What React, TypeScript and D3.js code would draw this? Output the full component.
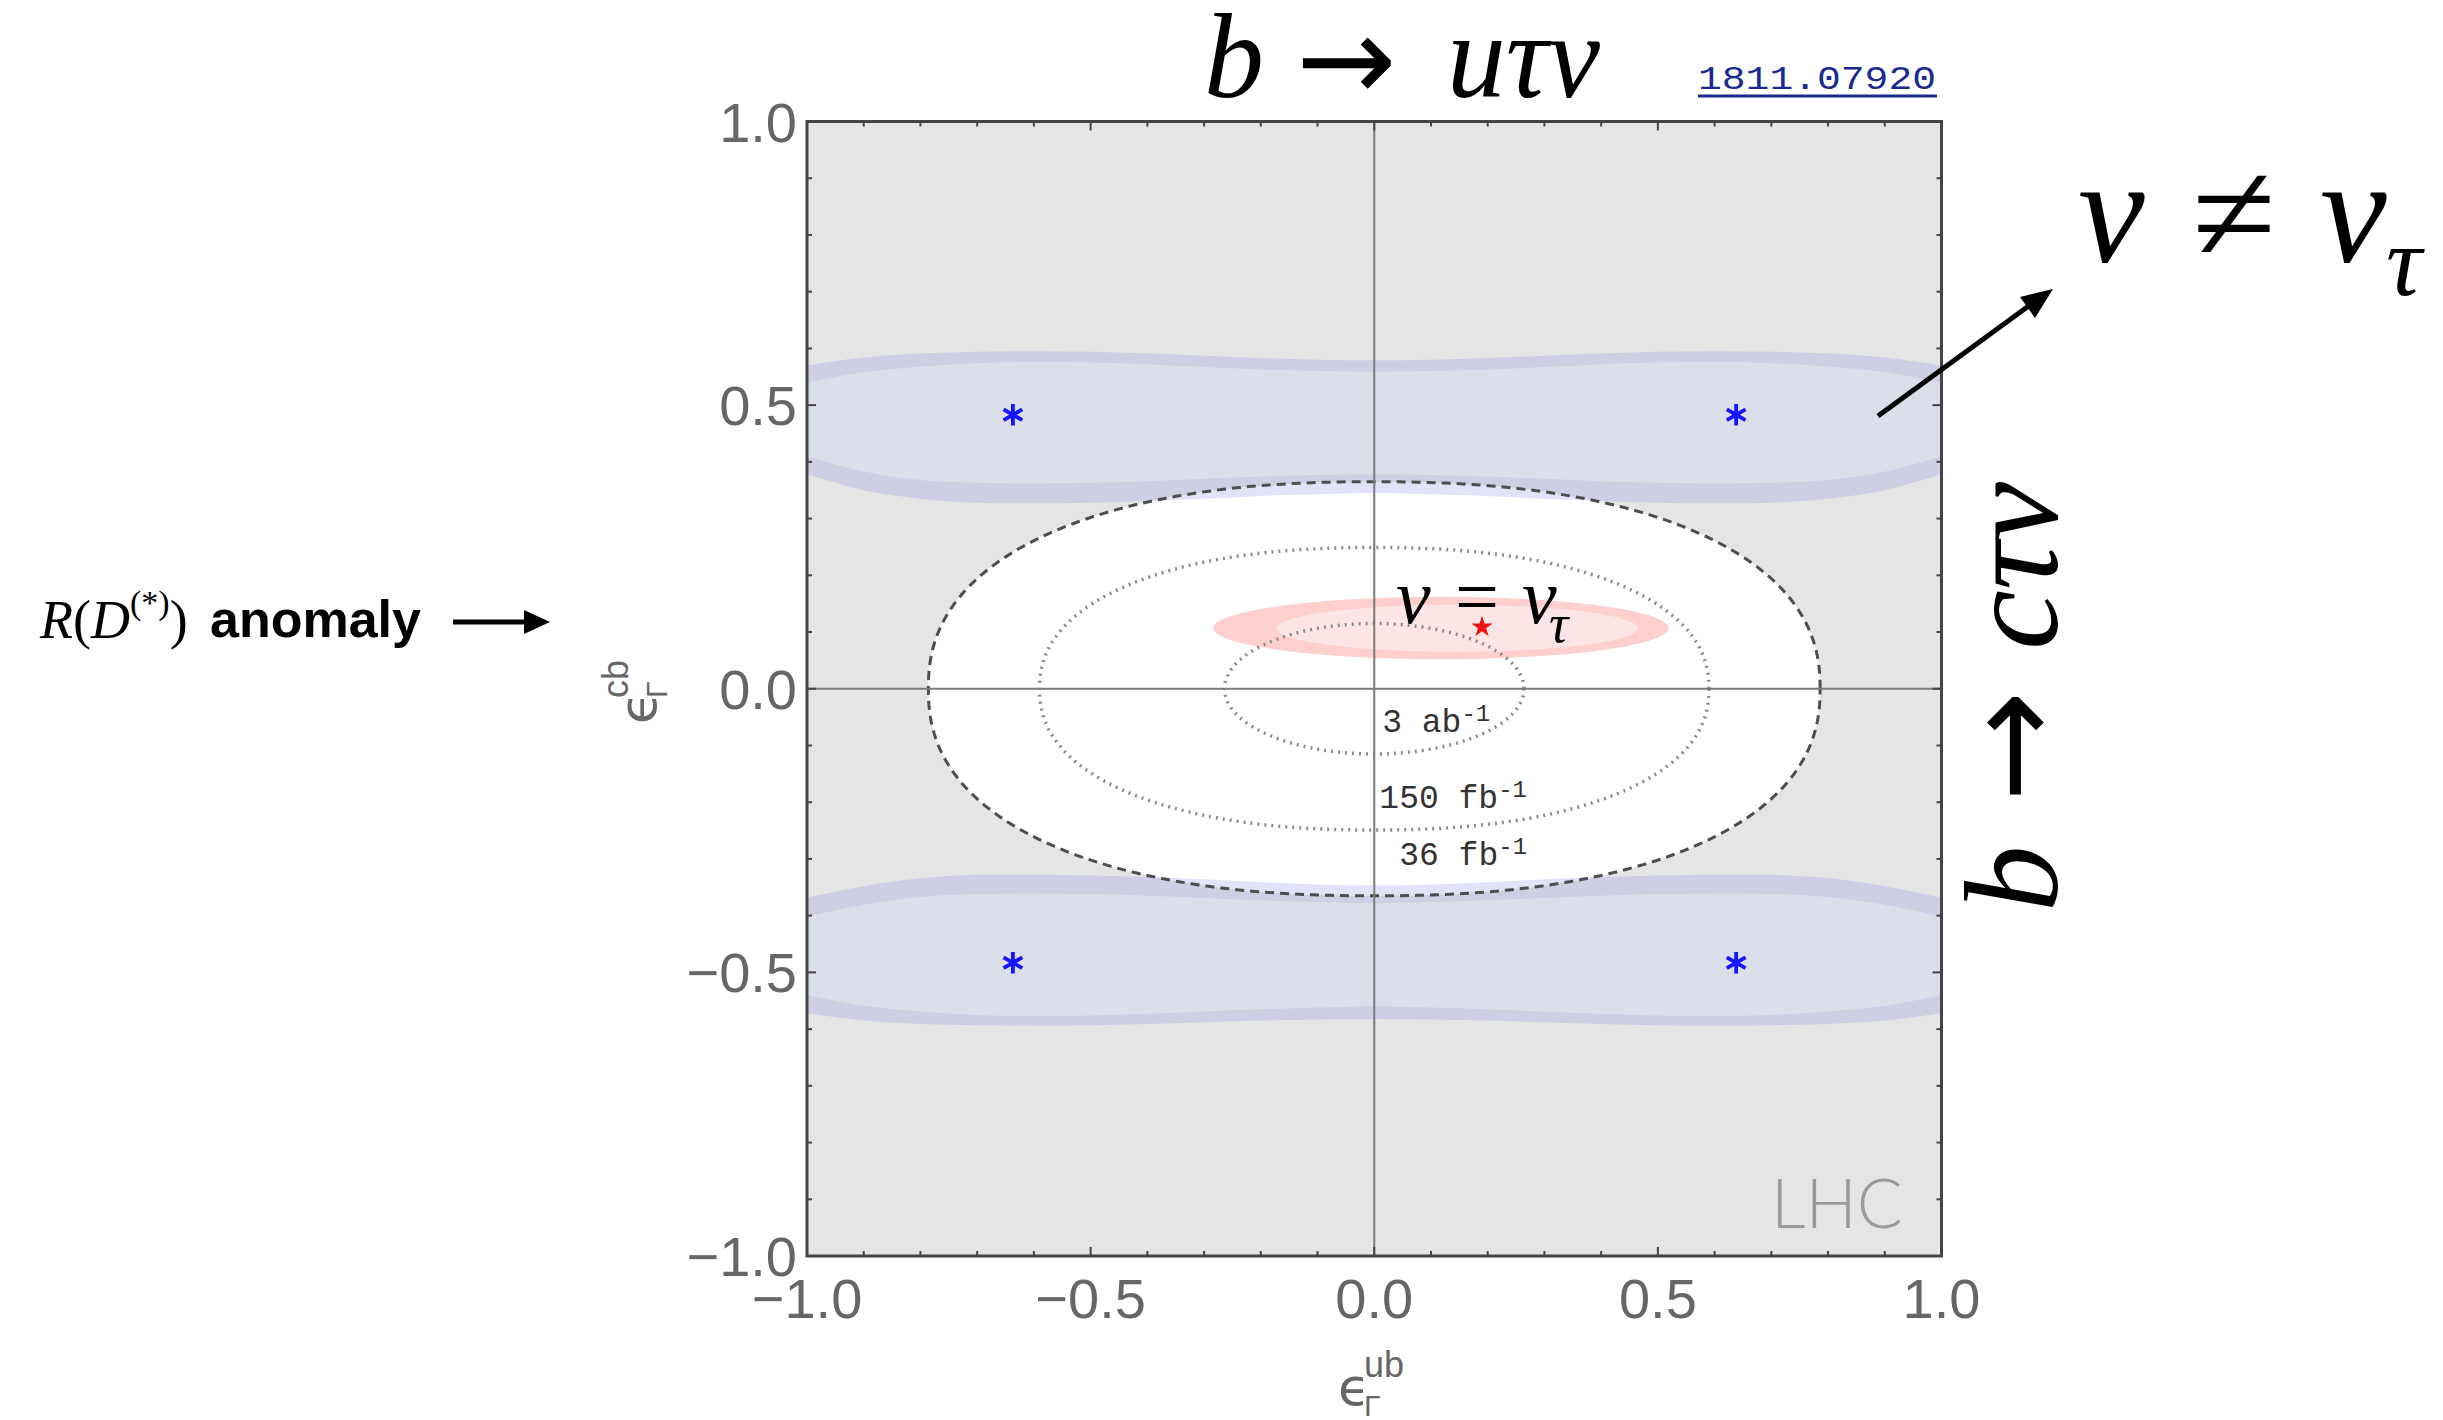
import React from "react";
import * as d3 from "d3";

const WIDTH = 2443;
const HEIGHT = 1420;

// Axis ticks
const majorTicks = [-1, -0.5, 0, 0.5, 1];
const majorTickLabels = ["−1.0", "−0.5", "0.0", "0.5", "1.0"];
const minorTicks = [-0.9, -0.8, -0.7, -0.6, -0.4, -0.3, -0.2, -0.1, 0.1, 0.2, 0.3, 0.4, 0.6, 0.7, 0.8, 0.9];

// b -> c tau nu (nu != nu_tau) allowed bands, sampled along epsilon_ub
const bandX = [-1, -0.9, -0.8, -0.7, -0.6, -0.5, -0.4, -0.3, -0.2, -0.1, 0, 0.1, 0.2, 0.3, 0.4, 0.5, 0.6, 0.7, 0.8, 0.9, 1];
const upperOuterTop = [0.570, 0.584, 0.591, 0.594, 0.595, 0.594, 0.591, 0.587, 0.583, 0.580, 0.579, 0.580, 0.583, 0.587, 0.591, 0.594, 0.595, 0.594, 0.591, 0.584, 0.570];
const upperInnerTop = [0.540, 0.558, 0.568, 0.574, 0.576, 0.575, 0.572, 0.567, 0.563, 0.560, 0.559, 0.560, 0.563, 0.567, 0.572, 0.575, 0.576, 0.574, 0.568, 0.558, 0.540];
const upperInnerBottom = [0.410, 0.383, 0.368, 0.363, 0.362, 0.363, 0.366, 0.370, 0.374, 0.377, 0.378, 0.377, 0.374, 0.370, 0.366, 0.363, 0.362, 0.363, 0.368, 0.383, 0.410];
const upperOuterBottom = [0.378, 0.350, 0.335, 0.328, 0.327, 0.328, 0.331, 0.335, 0.340, 0.343, 0.345, 0.343, 0.340, 0.335, 0.331, 0.328, 0.327, 0.328, 0.335, 0.350, 0.378];
const lowerOuterTop = [-0.368, -0.348, -0.334, -0.328, -0.328, -0.329, -0.332, -0.336, -0.341, -0.345, -0.347, -0.345, -0.341, -0.336, -0.332, -0.329, -0.328, -0.328, -0.334, -0.348, -0.368];
const lowerInnerTop = [-0.402, -0.381, -0.367, -0.362, -0.361, -0.362, -0.365, -0.369, -0.373, -0.376, -0.378, -0.376, -0.373, -0.369, -0.365, -0.362, -0.361, -0.362, -0.367, -0.381, -0.402];
const lowerInnerBottom = [-0.540, -0.559, -0.569, -0.575, -0.577, -0.576, -0.573, -0.569, -0.565, -0.562, -0.560, -0.562, -0.565, -0.569, -0.573, -0.576, -0.577, -0.575, -0.569, -0.559, -0.540];
const lowerOuterBottom = [-0.572, -0.585, -0.591, -0.593, -0.594, -0.593, -0.591, -0.588, -0.585, -0.583, -0.582, -0.583, -0.585, -0.588, -0.591, -0.593, -0.594, -0.593, -0.591, -0.585, -0.572];

// Projected LHC mono-tau sensitivity contours
const lumiLabels = ["36 fb", "150 fb", "3 ab"];
const lumiRx = [0.786, 0.59, 0.264];
const lumiRy = [0.365, 0.249, 0.115];
const lumiShape = [2.3, 2.25, 2.0];
const lumiLabelX = [0.044, 0.009, 0.014];
const lumiLabelY = [-0.311, -0.21, -0.077];

// nu = nu_tau preferred regions (outer, inner)
const tauCx = [0.1175, 0.146];
const tauCy = [0.107, 0.1065];
const tauRx = [0.4015, 0.319];
const tauRy = [0.055, 0.0415];
const tauFill = ["#fdcfcf", "#fde5e5"];

// Best-fit points
const nuBestX = [-0.637, 0.638, -0.637, 0.638];
const nuBestY = [0.483, 0.483, -0.483, -0.483];
const tauBest = [0.19, 0.109];

const serif = "'Liberation Serif', 'Times New Roman', serif";
const sans = "'Liberation Sans', Arial, Helvetica, sans-serif";
const mono = "'Liberation Mono', 'DejaVu Sans Mono', monospace";
const arrowFont = "'DejaVu Sans', sans-serif";

const x = d3.scaleLinear().domain([-1, 1]).range([807, 1941.5]);
const y = d3.scaleLinear().domain([-1, 1]).range([1256, 121.5]);

function superEllipse(cx: number, cy: number, rx: number, ry: number, n: number) {
  const pts: [number, number][] = [];
  const steps = 360;
  for (let i = 0; i < steps; i++) {
    const t = (i / steps) * Math.PI * 2;
    const c = Math.cos(t);
    const s = Math.sin(t);
    const px = cx + rx * Math.sign(c) * Math.pow(Math.abs(c), 2 / n);
    const py = cy + ry * Math.sign(s) * Math.pow(Math.abs(s), 2 / n);
    pts.push([x(px), y(py)]);
  }
  return d3.line().curve(d3.curveLinearClosed)(pts) as string;
}

function bandArea(top: number[], bottom: number[]) {
  const gen = d3
    .area<number>()
    .x((_, i) => x(bandX[i]))
    .y0((_, i) => y(bottom[i]))
    .y1((_, i) => y(top[i]))
    .curve(d3.curveCatmullRom);
  return gen(bandX) as string;
}

function EpsTitle({ tx, ty, rotate, sup, sub }: { tx: number; ty: number; rotate: number; sup: string; sub: string }) {
  return (
    <g transform={`translate(${tx},${ty}) rotate(${rotate})`} fill="#666" fontFamily={sans}>
      <text x={0} y={0} fontSize={52} fontFamily="'DejaVu Sans', sans-serif">ϵ</text>
      <text x={26} y={-28} fontSize={36}>{sup}</text>
      <text x={26} y={11} fontSize={30}>{sub}</text>
    </g>
  );
}

export default function App() {
  const left = x(-1);
  const right = x(1);
  const top = y(1);
  const bottom = y(-1);
  const star = d3.symbol(d3.symbolStar, 140)() as string;
  const asterisk = d3.symbol(d3.symbolAsterisk, 330)() as string;

  const ticks = [
    ...majorTicks.filter((t) => Math.abs(t) < 1).map((t) => ({ v: t, len: 9 })),
    ...minorTicks.map((t) => ({ v: t, len: 5 })),
  ];

  return (
    <svg
      width={WIDTH}
      height={HEIGHT}
      viewBox={`0 0 ${WIDTH} ${HEIGHT}`}
      style={{ position: "absolute", left: 0, top: 0, display: "block", background: "#fff" }}
    >
      <defs>
        <clipPath id="plot-clip">
          <rect x={left} y={top} width={right - left} height={bottom - top} />
        </clipPath>
      </defs>

      {/* plot background */}
      <rect x={left} y={top} width={right - left} height={bottom - top} fill="#e5e5e5" />

      <g clipPath="url(#plot-clip)">
        {/* region allowed with 36 fb^-1 */}
        <path d={superEllipse(0, 0, lumiRx[0], lumiRy[0], lumiShape[0])} fill="#ffffff" />

        {/* nu = nu_tau regions */}
        {tauCx.map((cx, i) => (
          <path key={`tau${i}`} d={superEllipse(cx, tauCy[i], tauRx[i], tauRy[i], 2)} fill={tauFill[i]} />
        ))}

        {/* nu != nu_tau bands: inner fill and outer ring */}
        {[
          [upperOuterTop, upperInnerTop, upperInnerBottom, upperOuterBottom],
          [lowerOuterTop, lowerInnerTop, lowerInnerBottom, lowerOuterBottom],
        ].map(([oT, iT, iB, oB], i) => (
          <g key={`band${i}`}>
            <path d={bandArea(iT, iB)} fill="rgb(198,212,246)" fillOpacity={0.32} />
            <path
              d={bandArea(oT, oB) + bandArea(iT, iB)}
              fill="rgb(140,142,232)"
              fillOpacity={0.25}
              fillRule="evenodd"
            />
          </g>
        ))}

        {/* luminosity contours */}
        {lumiRx.map((rx, i) => (
          <path
            key={`lumi${i}`}
            d={superEllipse(0, 0, rx, lumiRy[i], lumiShape[i])}
            fill="none"
            stroke={i === 0 ? "#4d4d4d" : "#8c8c8c"}
            strokeWidth={i === 0 ? 3 : 3.5}
            strokeDasharray={i === 0 ? "9 6" : "2 5"}
          />
        ))}

        {/* zero lines */}
        <line x1={x(0)} x2={x(0)} y1={top} y2={bottom} stroke="#7a7a7a" strokeWidth={2} />
        <line x1={left} x2={right} y1={y(0)} y2={y(0)} stroke="#7a7a7a" strokeWidth={2} />

        {/* best-fit points */}
        {nuBestX.map((bx, i) => (
          <path
            key={`ast${i}`}
            d={asterisk}
            transform={`translate(${x(bx)},${y(nuBestY[i])})`}
            fill="none"
            stroke="#1414ff"
            strokeWidth={3.8}
          />
        ))}
        <path d={star} transform={`translate(${x(tauBest[0])},${y(tauBest[1])})`} fill="#ee1111" />

        {/* contour labels */}
        {lumiLabels.map((lab, i) => (
          <text key={`ll${i}`} x={x(lumiLabelX[i])} y={y(lumiLabelY[i])} fontFamily={mono} fontSize={33} fill="#333">
            {lab}
            <tspan fontSize={24} dy={-11}>-1</tspan>
          </text>
        ))}

        {/* nu = nu_tau label */}
        <text y={623} fontFamily={serif} fontSize={78} fill="#000">
          <tspan x={1396} fontStyle="italic">ν</tspan>
          <tspan x={1455}>=</tspan>
          <tspan x={1522} fontStyle="italic">ν</tspan>
          <tspan x={1549} y={642} fontSize={54} fontStyle="italic">τ</tspan>
        </text>

        <text x={1771} y={1228} fontFamily="Lato, 'Open Sans', sans-serif" fontWeight={300} fontSize={68} fill="#9a9a9a">
          LHC
        </text>
      </g>

      {/* frame ticks */}
      <g stroke="#444" strokeWidth={2}>
        {ticks.map((t, i) => (
          <g key={`tk${i}`}>
            <line x1={x(t.v)} x2={x(t.v)} y1={bottom} y2={bottom - t.len} />
            <line x1={x(t.v)} x2={x(t.v)} y1={top} y2={top + t.len} />
            <line x1={left} x2={left + t.len} y1={y(t.v)} y2={y(t.v)} />
            <line x1={right} x2={right - t.len} y1={y(t.v)} y2={y(t.v)} />
          </g>
        ))}
      </g>
      <rect x={left} y={top} width={right - left} height={bottom - top} fill="none" stroke="#444" strokeWidth={3} />

      {/* tick labels */}
      <g fontFamily={sans} fontSize={56} fill="#666">
        {majorTicks.map((t, i) => (
          <text key={`xl${i}`} x={x(t)} y={bottom + 62} textAnchor="middle">
            {majorTickLabels[i]}
          </text>
        ))}
        {majorTicks.map((t, i) => (
          <text key={`yl${i}`} x={left - 10} y={y(t) + 20} textAnchor="end">
            {majorTickLabels[i]}
          </text>
        ))}
      </g>

      {/* axis titles */}
      <EpsTitle tx={1338} ty={1405} rotate={0} sup="ub" sub="Γ" />
      <EpsTitle tx={656} ty={724} rotate={-90} sup="cb" sub="Γ" />

      {/* headline: b -> u tau nu */}
      <text x={1204} y={97} fontFamily={serif} fontStyle="italic" fontSize={120} fill="#000">b</text>
      <text x={1296} y={101} fontFamily={arrowFont} fontSize={120} fill="#000">→</text>
      <text x={1447} y={97} fontFamily={serif} fontStyle="italic" fontSize={120} fill="#000" textLength={153} lengthAdjust="spacingAndGlyphs">uτν</text>

      {/* arXiv reference */}
      <text x={1698} y={89} fontFamily={mono} fontSize={33} fill="#1b2a8e" textLength={238} lengthAdjust="spacingAndGlyphs">
        1811.07920
      </text>
      <line x1={1698} x2={1937} y1={96} y2={96} stroke="#1b2a8e" strokeWidth={3} />

      {/* nu != nu_tau annotation */}
      <text x={2078} y={262} fontFamily={serif} fontStyle="italic" fontSize={150} fill="#000">ν</text>
      <text x={2192} y={262} fontFamily={serif} fontSize={145} fill="#000" textLength={84} lengthAdjust="spacingAndGlyphs">≠</text>
      <text x={2320} y={262} fontFamily={serif} fontStyle="italic" fontSize={150} fill="#000">ν</text>
      <text x={2386} y={295} fontFamily={serif} fontStyle="italic" fontSize={100} fill="#000">τ</text>
      <line x1={1878} y1={416} x2={2030} y2={305} stroke="#000" strokeWidth={5} />
      <path d="M2053,289 L2020,297 L2035,318 Z" fill="#000" />

      {/* b -> c tau nu annotation */}
      <g transform="translate(2057,912) rotate(-90)" fontFamily={serif} fill="#000">
        <text x={0} y={0} fontStyle="italic" fontSize={133}>b</text>
        <text x={110} y={0} fontFamily={arrowFont} fontSize={133}>→</text>
        <text x={262} y={0} fontStyle="italic" fontSize={133} textLength={168} lengthAdjust="spacingAndGlyphs">cτν</text>
      </g>

      {/* R(D(*)) anomaly annotation */}
      <text y={638} fontFamily={serif} fontSize={54} fill="#000">
        <tspan x={40} fontStyle="italic">R</tspan>
        <tspan>(</tspan>
        <tspan fontStyle="italic">D</tspan>
        <tspan fontSize={34} dy={-24}>(*)</tspan>
        <tspan dy={24}>)</tspan>
      </text>
      <text x={210} y={637} fontFamily={sans} fontWeight="bold" fontSize={52} fill="#000">anomaly</text>
      <line x1={453} x2={530} y1={622} y2={622} stroke="#000" strokeWidth={5} />
      <path d="M550,622 L524,610 L524,634 Z" fill="#000" />
    </svg>
  );
}
